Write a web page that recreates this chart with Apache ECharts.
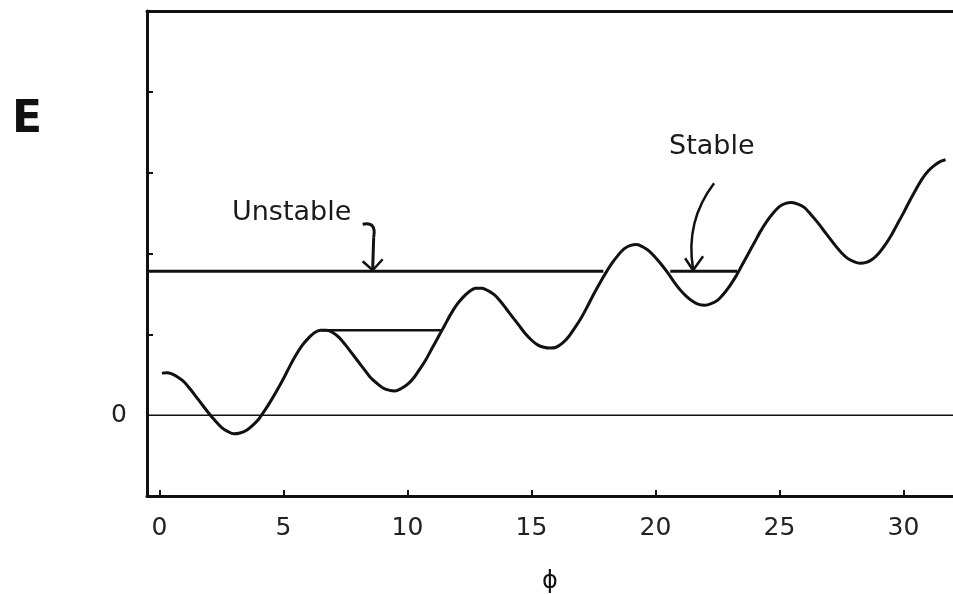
<!DOCTYPE html>
<html>
<head>
<meta charset="utf-8">
<script src="https://cdn.jsdelivr.net/npm/echarts@6/dist/echarts.min.js"></script>
<style>
html,body{margin:0;padding:0;background:#fff;}
#chart{width:953px;height:594px;}
</style>
</head>
<body>
<div id="chart"></div>
<script>
// ---- data ----
const phiValues = [0.1,0.3,0.5,0.75,1.0,1.25,1.5,1.75,2.0,2.25,2.5,2.75,3.0,3.25,3.5,3.75,4.0,4.25,4.5,4.75,5.0,5.25,5.5,5.75,6.0,6.25,6.5,6.75,7.0,7.25,7.5,7.75,8.0,8.25,8.5,8.75,9.0,9.25,9.5,9.75,10.0,10.25,10.5,10.75,11.0,11.25,11.5,11.75,12.0,12.25,12.5,12.75,13.0,13.25,13.5,13.75,14.0,14.25,14.5,14.75,15.0,15.25,15.5,15.75,16.0,16.25,16.5,16.75,17.0,17.25,17.5,17.75,18.0,18.25,18.5,18.75,19.0,19.25,19.5,19.75,20.0,20.25,20.5,20.75,21.0,21.25,21.5,21.75,22.0,22.25,22.5,22.75,23.0,23.25,23.5,23.75,24.0,24.25,24.5,24.75,25.0,25.25,25.5,25.75,26.0,26.25,26.5,26.75,27.0,27.25,27.5,27.75,28.0,28.25,28.5,28.75,29.0,29.25,29.5,29.75,30.0,30.25,30.5,30.75,31.0,31.25,31.5,31.7];
const energyValues = [0.52,0.525,0.51,0.47,0.41,0.32,0.22,0.12,0.02,-0.07,-0.15,-0.20,-0.23,-0.22,-0.19,-0.13,-0.05,0.06,0.18,0.31,0.45,0.60,0.74,0.86,0.95,1.02,1.05,1.05,1.02,0.96,0.87,0.77,0.67,0.57,0.47,0.40,0.34,0.31,0.30,0.33,0.38,0.46,0.57,0.69,0.83,0.97,1.11,1.25,1.37,1.46,1.53,1.57,1.57,1.54,1.49,1.41,1.31,1.21,1.11,1.01,0.93,0.87,0.84,0.83,0.84,0.89,0.97,1.08,1.20,1.34,1.49,1.63,1.76,1.88,1.98,2.06,2.10,2.11,2.08,2.03,1.95,1.86,1.76,1.65,1.55,1.47,1.41,1.37,1.36,1.38,1.42,1.50,1.60,1.72,1.86,2.00,2.14,2.28,2.40,2.50,2.58,2.62,2.63,2.61,2.57,2.49,2.40,2.30,2.20,2.10,2.01,1.94,1.90,1.88,1.89,1.93,2.00,2.10,2.22,2.36,2.50,2.65,2.79,2.92,3.02,3.09,3.14,3.16];
const zeroLevel = [[-0.5, 0], [32, 0]];
const unstableLevel = [[-0.5, 1.78], [17.9, 1.78]];
const stableLevel = [[20.6, 1.78], [23.3, 1.78]];
const plateauLevel = [[6.55, 1.05], [11.35, 1.05]];
const xTickValues = [0, 5, 10, 15, 20, 25, 30];
const yTickValues = [1, 2, 3, 4];
const yLabelValues = [0];
const annotations = { unstable: 'Unstable', stable: 'Stable', yName: 'E', xName: 'ϕ' };
const unstableArrowTip = [8.6, 1.78];
const stableArrowTip = [21.6, 1.78];

const curveData = phiValues.map((p, i) => [p, energyValues[i]]);
const ink = '#111';

const chart = echarts.init(document.getElementById('chart'), null, { renderer: 'canvas' });

const levelSeries = (data, w) => ({
  type: 'line', data, symbol: 'none', silent: true, animation: false,
  lineStyle: { color: ink, width: w }
});

chart.setOption({
  animation: false,
  backgroundColor: '#ffffff',
  grid: { left: 147, right: 0, top: 11, bottom: 98, containLabel: false, outerBoundsMode: 'none' },
  xAxis: [{
    type: 'value', min: -0.5, max: 32,
    axisLine: { show: true, onZero: false, lineStyle: { color: ink, width: 3 } },
    axisTick: { show: true, inside: true, length: 6, customValues: xTickValues, lineStyle: { color: ink, width: 2 } },
    axisLabel: { show: true, customValues: xTickValues, margin: 20, fontFamily: 'DejaVu Sans', fontSize: 25, color: '#222' },
    splitLine: { show: false },
    name: annotations.xName, nameLocation: 'middle', nameGap: 74,
    nameTextStyle: { fontFamily: 'DejaVu Sans', fontSize: 24, color: '#111' }
  }, {
    type: 'value', min: -0.5, max: 32, position: 'top',
    axisLine: { show: true, onZero: false, lineStyle: { color: ink, width: 3 } },
    axisTick: { show: false }, axisLabel: { show: false }, splitLine: { show: false }
  }],
  yAxis: {
    type: 'value', min: -1, max: 5, interval: 1,
    axisLine: { show: true, onZero: false, lineStyle: { color: ink, width: 3 } },
    axisTick: { show: true, inside: true, length: 6, customValues: yTickValues, lineStyle: { color: ink, width: 2 } },
    axisLabel: { show: true, customValues: yLabelValues, margin: 20, fontFamily: 'DejaVu Sans', fontSize: 25, color: '#222' },
    splitLine: { show: false }
  },
  series: [
    levelSeries(zeroLevel, 1.5),
    levelSeries(unstableLevel, 3),
    levelSeries(stableLevel, 3),
    levelSeries(plateauLevel, 2.5),
    {
      type: 'line', data: curveData, smooth: 0.3, symbol: 'none', silent: true,
      lineStyle: { color: ink, width: 3 }
    }
  ]
});

const tipU = chart.convertToPixel({ gridIndex: 0 }, unstableArrowTip);
const tipS = chart.convertToPixel({ gridIndex: 0 }, stableArrowTip);

chart.setOption({
  graphic: [
    { type: 'text', x: 232, y: 199, style: { text: annotations.unstable, fontFamily: 'DejaVu Sans', fontSize: 27, fill: '#1a1a1a' } },
    { type: 'text', x: 669, y: 133, style: { text: annotations.stable, fontFamily: 'DejaVu Sans', fontSize: 27, fill: '#1a1a1a' } },
    { type: 'text', x: 12, y: 99, style: { text: annotations.yName, fontFamily: 'DejaVu Sans', fontWeight: 'bold', fontSize: 44, fill: '#111' } },
    { type: 'bezierCurve', shape: { x1: tipU[0] - 10, y1: tipU[1] - 47, cpx1: tipU[0] + 4, cpy1: tipU[1] - 50, x2: tipU[0] + 1, y2: tipU[1] - 34 },
      style: { stroke: ink, lineWidth: 3, fill: null } },
    { type: 'line', shape: { x1: tipU[0] + 1, y1: tipU[1] - 34, x2: tipU[0], y2: tipU[1] - 2 },
      style: { stroke: ink, lineWidth: 3 } },
    { type: 'polyline', shape: { points: [[tipU[0] - 10, tipU[1] - 10], [tipU[0], tipU[1] - 1], [tipU[0] + 10, tipU[1] - 12]] },
      style: { stroke: ink, lineWidth: 2.5, fill: null } },
    { type: 'bezierCurve', shape: { x1: tipS[0] + 19, y1: tipS[1] - 88, cpx1: tipS[0] - 10, cpy1: tipS[1] - 50, x2: tipS[0] - 2, y2: tipS[1] - 2 },
      style: { stroke: ink, lineWidth: 2.5, fill: null } },
    { type: 'polyline', shape: { points: [[tipS[0] - 10, tipS[1] - 13], [tipS[0] - 2, tipS[1] - 1], [tipS[0] + 8, tipS[1] - 15]] },
      style: { stroke: ink, lineWidth: 2.5, fill: null } }
  ]
});
</script>
</body>
</html>
